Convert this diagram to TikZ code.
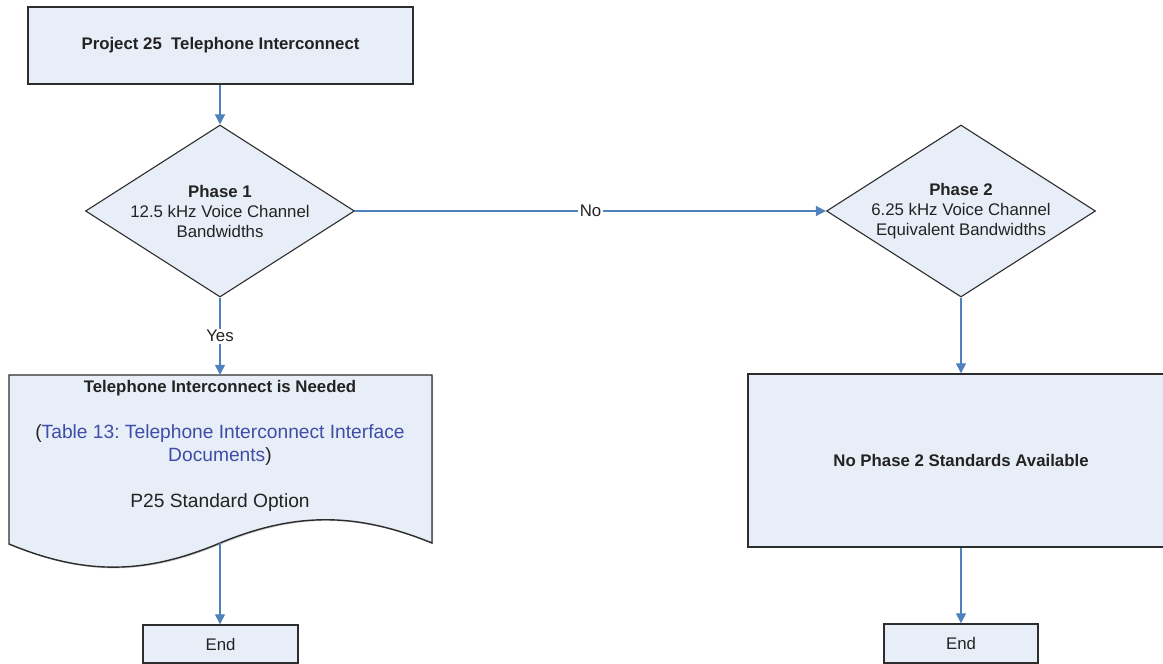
\documentclass[tikz,border=0pt]{standalone}
\usepackage{fontspec}
\setmainfont{Liberation Sans}
\frenchspacing
\usetikzlibrary{shapes.geometric,arrows.meta,shadows}
\definecolor{boxfill}{RGB}{232,238,247}
\definecolor{boxline}{RGB}{45,45,45}
\definecolor{arrowblue}{RGB}{79,129,189}
\definecolor{linkblue}{RGB}{61,77,168}
\definecolor{txt}{RGB}{35,35,35}
\begin{document}
\begin{tikzpicture}[x=1pt,y=-1pt,
  every node/.style={font=\fontsize{16.8}{20}\selectfont, text=txt},
  shade/.style={drop shadow={shadow xshift=1.2pt,shadow yshift=-1.2pt,opacity=0.35,fill=black!60}},
  procbox/.style={rectangle, draw=boxline, fill=boxfill, line width=1.4pt, inner sep=0pt, shade},
  dia/.style={diamond, draw=boxline, fill=boxfill, line width=1.1pt, inner sep=0pt,
    minimum width=269pt, minimum height=172pt},
  txtnode/.style={align=center, inner sep=0pt},
  bigtxt/.style={txtnode, font=\fontsize{19.2}{23}\selectfont},
  conn/.style={draw=arrowblue, line width=1.3pt, -{Triangle[length=10pt,width=10pt]}},
  lbl/.style={fill=white, inner sep=1.5pt}
]
\useasboundingbox (0,0) rectangle (1163,664);
\clip (0,0) rectangle (1163,664);

% top box
\node[procbox, minimum width=385pt, minimum height=77pt] (top) at (220.5,45.5)
  {\bfseries Project 25\ \ Telephone Interconnect};

% diamonds
\node[dia] (d1) at (220,211) {};
\node[txtnode] (d1t) at (220,211) {\bfseries Phase 1\\12.5 kHz Voice Channel\\Bandwidths};
\node[dia] (d2) at (961,211) {};
\node[txtnode] (d2t) at (961,211) {\bfseries Phase 2\\6.25 kHz Voice Channel\\Equivalent Bandwidths};

% document shape
\coordinate (docTL) at (9,375);
\coordinate (docTR) at (432,375);
\coordinate (docR) at (432,543);
\coordinate (docM) at (220,543);
\coordinate (docL) at (9,544);
\node[inner sep=0pt, minimum width=423pt, minimum height=168pt] (doc) at (220.5,459) {};
\fill[black!60, opacity=0.35] ([shift={(1.2,1.2)}]docTL) -- ([shift={(1.2,1.2)}]docTR) -- ([shift={(1.2,1.2)}]docR)
  .. controls (357.2,513.2) and (296.2,513.2) .. ([shift={(1.2,1.2)}]docM)
  .. controls (145.2,576.2) and (85.2,576.2) .. ([shift={(1.2,1.2)}]docL) -- cycle;
\draw[draw=boxline, fill=boxfill, line width=1.4pt] (docTL) -- (docTR) -- (docR)
  .. controls (356,512) and (295,512) .. (docM)
  .. controls (144,575) and (84,575) .. (docL) -- cycle;
\node[txtnode] (doct1) at (220,388) {\bfseries Telephone Interconnect is Needed};
\node[bigtxt] (doct2) at (220,445.5) {(\textcolor{linkblue}{Table 13: Telephone Interconnect Interface}\\\textcolor{linkblue}{Documents})};
\node[bigtxt] (doct3) at (220,503) {P25 Standard Option};

% right box
\node[procbox, minimum width=426pt, minimum height=173pt] (nop2) at (961,460.5)
  {\bfseries No Phase 2 Standards Available};

% end boxes
\node[procbox, minimum width=155pt, minimum height=38pt] (end1) at (220.5,644) {End};
\node[procbox, minimum width=154pt, minimum height=39pt] (end2) at (961,643.5) {End};

% connectors
\draw[conn] (top.south -| d1.north) -- (d1.north);
\draw[conn] (d1.south) -- node[lbl] (yes) {Yes} (d1.south |- doc.north);
\draw[conn] (d1.east) -- node[lbl, pos=0.5] (no) {No} (d2.west);
\draw[conn] (docM) -- (docM |- end1.north);
\draw[conn] (d2.south) -- (d2.south |- nop2.north);
\draw[conn] (nop2.south) -- (end2.north);
\end{tikzpicture}
\end{document}
